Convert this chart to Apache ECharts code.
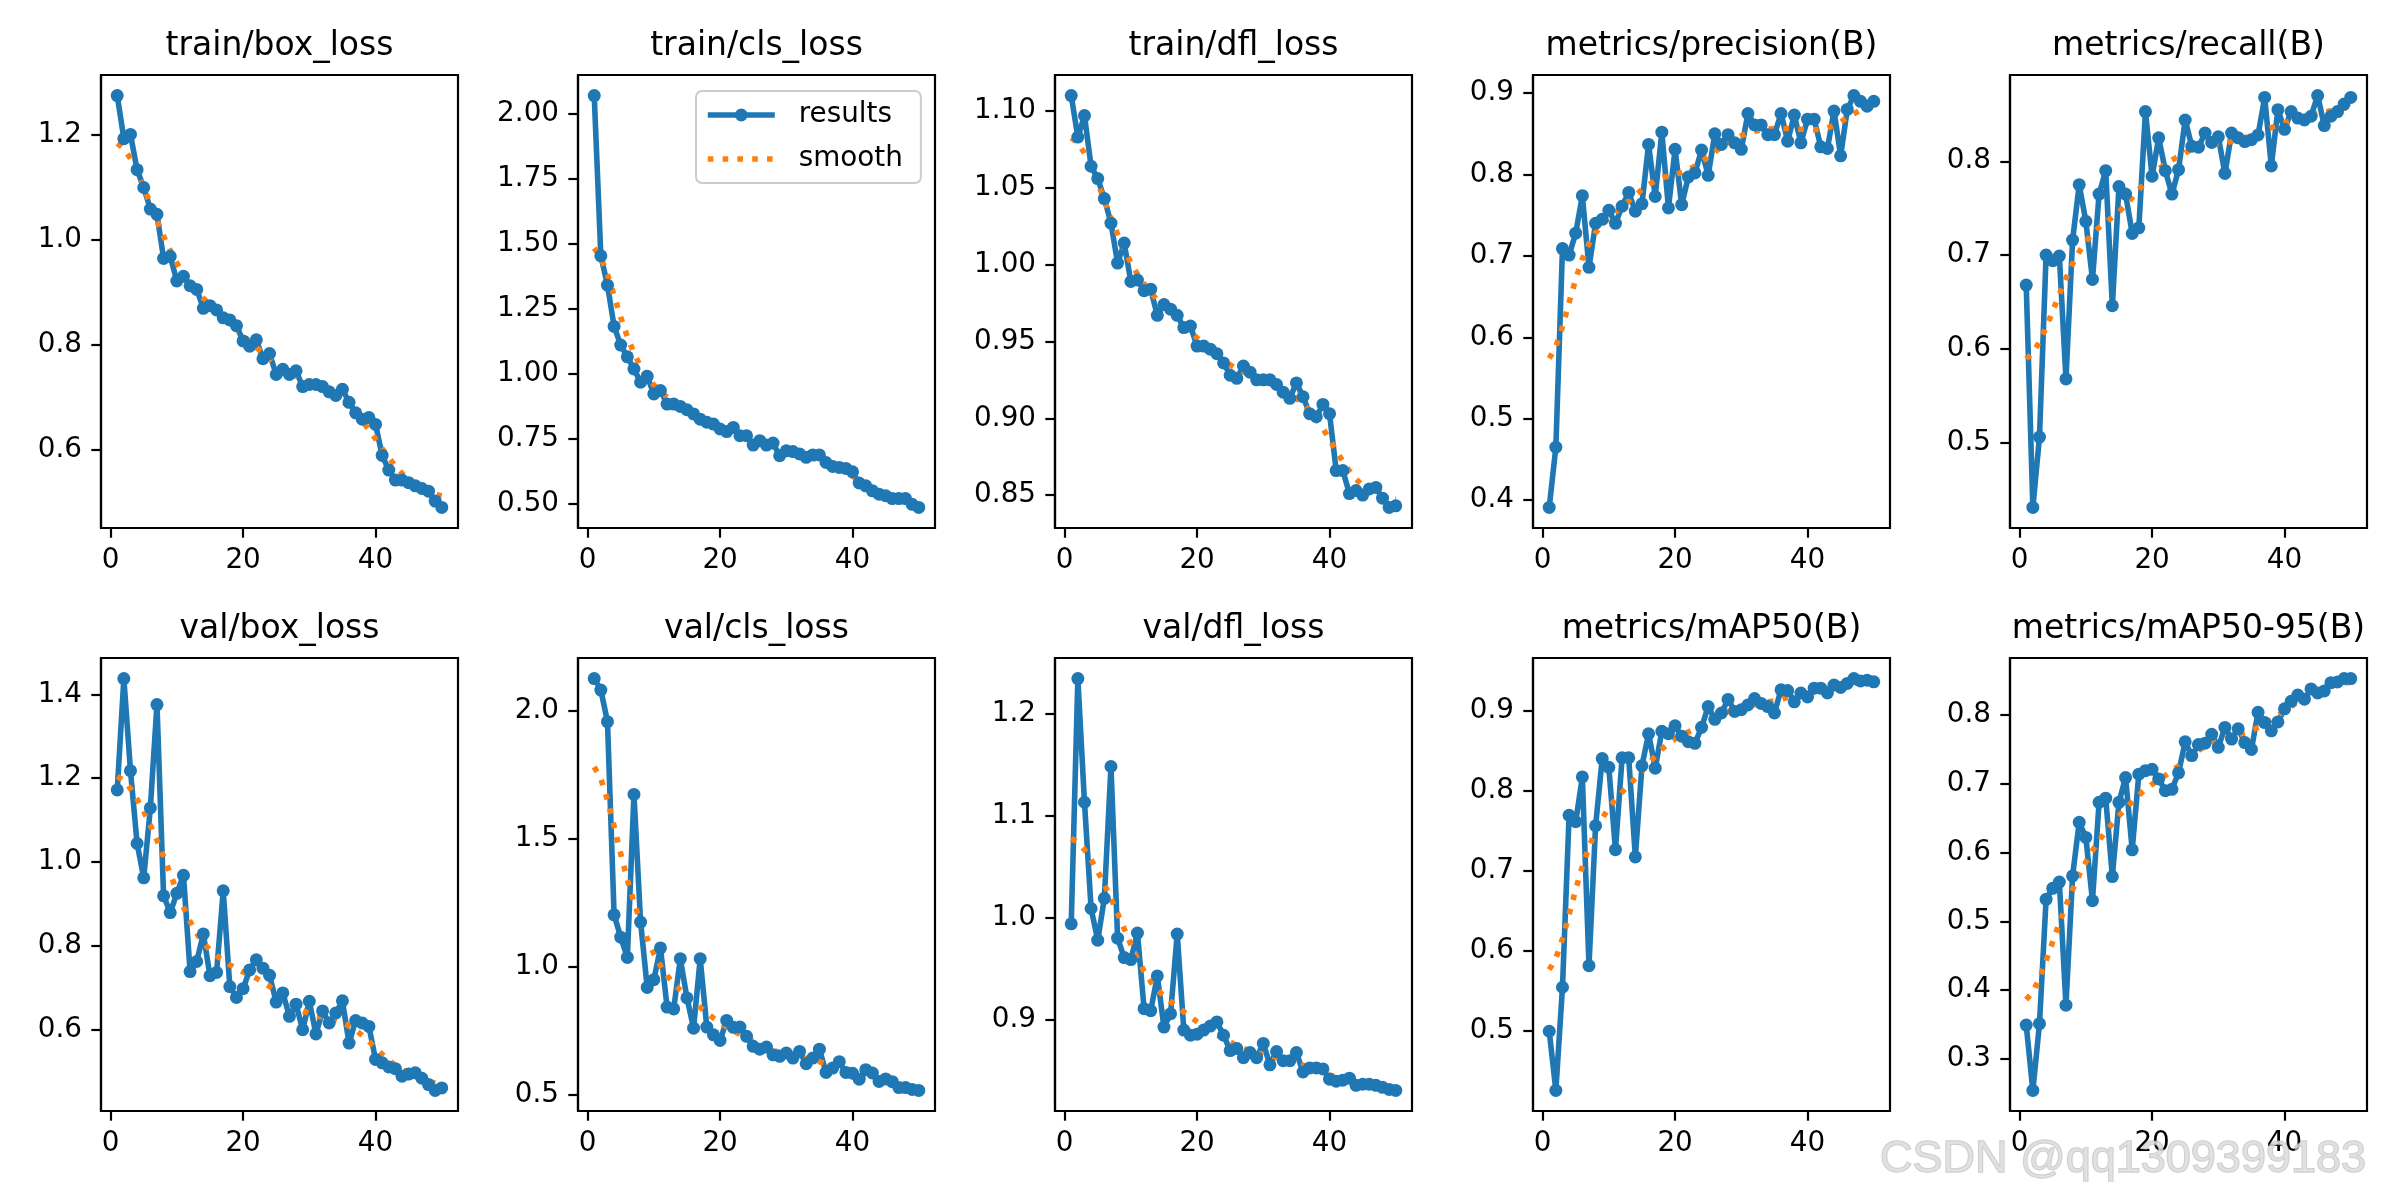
<!DOCTYPE html>
<html>
<head>
    <meta charset="utf-8"/>
    <title>results</title>
    <script src="https://cdn.jsdelivr.net/npm/echarts@6/dist/echarts.min.js"></script>
    <style>
        body { margin: 0; background: #fff; }
    </style>
</head>
<body>
<div id="main" style="width: 2400px;height:1200px;"></div>
<script type="text/javascript">
    // epochs (x axis)
    var epochs = [1,2,3,4,5,6,7,8,9,10,11,12,13,14,15,16,17,18,19,20,21,22,23,24,25,
                  26,27,28,29,30,31,32,33,34,35,36,37,38,39,40,41,42,43,44,45,46,47,48,49,50];
    var epochTicks = [0, 20, 40];

    // values
    var trainBox = [1.274,1.192,1.200,1.133,1.099,1.058,1.048,0.964,0.968,0.921,0.930,0.912,0.905,0.869,0.874,0.866,0.851,0.847,0.836,0.807,0.797,0.809,0.773,0.783,0.743,0.753,0.743,0.750,0.720,0.724,0.724,0.720,0.710,0.703,0.715,0.690,0.670,0.658,0.661,0.648,0.589,0.561,0.542,0.542,0.537,0.531,0.526,0.521,0.502,0.490];
    var trainCls = [2.071,1.454,1.341,1.182,1.110,1.065,1.018,0.967,0.990,0.922,0.935,0.883,0.883,0.874,0.861,0.845,0.825,0.813,0.806,0.787,0.777,0.793,0.761,0.761,0.725,0.742,0.725,0.733,0.684,0.703,0.700,0.691,0.678,0.687,0.687,0.658,0.643,0.639,0.635,0.622,0.579,0.568,0.549,0.536,0.530,0.519,0.519,0.519,0.497,0.485];
    var trainDfl = [1.110,1.083,1.097,1.064,1.056,1.043,1.027,1.001,1.014,0.989,0.990,0.983,0.984,0.967,0.974,0.971,0.967,0.959,0.960,0.947,0.947,0.945,0.942,0.936,0.928,0.926,0.934,0.930,0.925,0.925,0.925,0.922,0.917,0.913,0.923,0.914,0.903,0.901,0.909,0.903,0.866,0.866,0.851,0.853,0.850,0.854,0.855,0.848,0.842,0.843];
    var precision = [0.391,0.465,0.709,0.701,0.728,0.774,0.686,0.740,0.745,0.756,0.740,0.761,0.778,0.755,0.764,0.837,0.773,0.852,0.759,0.831,0.763,0.797,0.802,0.830,0.799,0.850,0.837,0.849,0.839,0.831,0.875,0.861,0.861,0.849,0.849,0.875,0.841,0.873,0.839,0.868,0.868,0.834,0.832,0.878,0.823,0.880,0.897,0.890,0.884,0.890];
    var recall = [0.668,0.431,0.506,0.700,0.694,0.699,0.568,0.716,0.775,0.736,0.674,0.765,0.790,0.646,0.773,0.765,0.723,0.729,0.853,0.784,0.825,0.790,0.765,0.791,0.844,0.816,0.815,0.830,0.820,0.826,0.787,0.830,0.825,0.821,0.823,0.828,0.868,0.795,0.855,0.834,0.853,0.846,0.844,0.848,0.870,0.838,0.848,0.853,0.861,0.868];
    var valBox = [1.172,1.438,1.218,1.044,0.962,1.129,1.376,0.919,0.879,0.925,0.968,0.738,0.762,0.828,0.728,0.736,0.931,0.702,0.676,0.697,0.742,0.766,0.746,0.729,0.665,0.687,0.631,0.660,0.599,0.667,0.589,0.644,0.615,0.639,0.668,0.567,0.621,0.615,0.607,0.528,0.520,0.510,0.506,0.488,0.493,0.496,0.483,0.468,0.454,0.460];
    var valCls = [2.124,2.079,1.956,1.202,1.115,1.036,1.672,1.174,0.919,0.949,1.073,0.842,0.835,1.031,0.878,0.760,1.031,0.764,0.734,0.712,0.790,0.763,0.764,0.728,0.689,0.678,0.686,0.656,0.650,0.663,0.643,0.669,0.621,0.643,0.678,0.587,0.604,0.629,0.587,0.584,0.561,0.598,0.585,0.552,0.562,0.551,0.528,0.528,0.521,0.517];
    var valDfl = [0.994,1.234,1.113,1.009,0.978,1.019,1.148,0.980,0.961,0.959,0.985,0.911,0.909,0.943,0.893,0.906,0.984,0.890,0.885,0.886,0.890,0.894,0.898,0.885,0.870,0.872,0.863,0.868,0.863,0.877,0.856,0.869,0.860,0.860,0.868,0.849,0.853,0.853,0.852,0.842,0.840,0.841,0.843,0.836,0.837,0.837,0.836,0.834,0.832,0.831];
    var map50 = [0.499,0.425,0.554,0.769,0.761,0.817,0.581,0.756,0.840,0.829,0.726,0.841,0.841,0.717,0.831,0.871,0.828,0.874,0.871,0.881,0.868,0.861,0.859,0.879,0.905,0.889,0.897,0.914,0.899,0.901,0.907,0.915,0.909,0.905,0.897,0.926,0.925,0.911,0.922,0.917,0.928,0.928,0.922,0.932,0.929,0.934,0.940,0.937,0.938,0.936];
    var map5095 = [0.349,0.254,0.351,0.532,0.548,0.557,0.378,0.566,0.644,0.622,0.530,0.673,0.679,0.565,0.673,0.709,0.604,0.714,0.719,0.721,0.707,0.690,0.692,0.716,0.761,0.741,0.757,0.759,0.772,0.753,0.782,0.765,0.780,0.760,0.750,0.804,0.789,0.777,0.790,0.809,0.820,0.829,0.823,0.838,0.832,0.835,0.847,0.848,0.853,0.853];

    // y tick labels per panel
    var trainBoxTicks = ['0.6','0.8','1.0','1.2'];
    var trainClsTicks = ['0.50','0.75','1.00','1.25','1.50','1.75','2.00'];
    var trainDflTicks = ['0.85','0.90','0.95','1.00','1.05','1.10'];
    var precisionTicks = ['0.4','0.5','0.6','0.7','0.8','0.9'];
    var recallTicks = ['0.5','0.6','0.7','0.8'];
    var valBoxTicks = ['0.6','0.8','1.0','1.2','1.4'];
    var valClsTicks = ['0.5','1.0','1.5','2.0'];
    var valDflTicks = ['0.9','1.0','1.1','1.2'];
    var map50Ticks = ['0.5','0.6','0.7','0.8','0.9'];
    var map5095Ticks = ['0.3','0.4','0.5','0.6','0.7','0.8'];

    var titles = ['train/box_loss','train/cls_loss','train/dfl_loss','metrics/precision(B)','metrics/recall(B)',
                  'val/box_loss','val/cls_loss','val/dfl_loss','metrics/mAP50(B)','metrics/mAP50-95(B)'];
    var values = [trainBox, trainCls, trainDfl, precision, recall, valBox, valCls, valDfl, map50, map5095];
    var ticks = [trainBoxTicks, trainClsTicks, trainDflTicks, precisionTicks, recallTicks,
                 valBoxTicks, valClsTicks, valDflTicks, map50Ticks, map5095Ticks];

    // same as scipy gaussian_filter1d(y, sigma=3), mode 'reflect'
    function gaussianSmooth(y, sigma) {
        var r = Math.round(4 * sigma), w = [], s = 0, n = y.length, out = [];
        for (var k = -r; k <= r; k++) { var v = Math.exp(-0.5 * k * k / (sigma * sigma)); w.push(v); s += v; }
        for (var i = 0; i < n; i++) {
            var acc = 0;
            for (var k = -r; k <= r; k++) {
                var j = i + k;
                while (j < 0 || j >= n) { if (j < 0) j = -j - 1; if (j >= n) j = 2 * n - j - 1; }
                acc += w[k + r] * y[j];
            }
            out.push(acc / s);
        }
        return out;
    }

    var FONT = 'DejaVu Sans';
    var BLUE = '#1f77b4', ORANGE = '#ff7f0e';
    var DOTS = [5.6, 9.2];
    var lefts = [101, 578, 1055, 1533, 2010];
    var tops = [75, 658];
    var W = 357, H = 453;

    var myChart = echarts.init(document.getElementById('main'), null, {renderer: 'canvas'});
    var grids = [], xAxes = [], yAxes = [], series = [], graphics = [];

    for (var p = 0; p < 10; p++) {
        var col = p % 5, row = Math.floor(p / 5);
        var y = values[p];
        var sm = gaussianSmooth(y, 3);
        var lo = Math.min.apply(null, y), hi = Math.max.apply(null, y);
        var pad = (hi - lo) * 0.05;
        var tickVals = ticks[p].map(Number);
        var tickLabels = ticks[p];

        grids.push({left: lefts[col], top: tops[row], width: W, height: H,
            show: true, borderColor: '#000', borderWidth: 2.2, backgroundColor: '#fff'});
        xAxes.push({
            type: 'value', gridIndex: p, min: 1 - 49 * 0.05, max: 50 + 49 * 0.05,
            axisLine: {show: true, onZero: false, lineStyle: {color: '#000', width: 2.2}},
            axisTick: {show: true, customValues: epochTicks, length: 9.7, lineStyle: {color: '#000', width: 2.2}},
            axisLabel: {customValues: epochTicks, margin: 19, fontSize: 27.8, fontFamily: FONT, color: '#000'},
            splitLine: {show: false}
        });
        yAxes.push({
            type: 'value', gridIndex: p, min: lo - pad, max: hi + pad,
            axisLine: {show: true, onZero: false, lineStyle: {color: '#000', width: 2.2}},
            axisTick: {show: true, customValues: tickVals, length: 9.7, lineStyle: {color: '#000', width: 2.2}},
            axisLabel: {customValues: tickVals, margin: 19, fontSize: 27.8, fontFamily: FONT, color: '#000',
                formatter: (function (tv, tl) {
                    return function (v) {
                        for (var i = 0; i < tv.length; i++) { if (Math.abs(tv[i] - v) < 1e-9) return tl[i]; }
                        return '';
                    };
                })(tickVals, tickLabels)},
            splitLine: {show: false}
        });
        series.push({
            name: 'results', type: 'line', xAxisIndex: p, yAxisIndex: p,
            data: epochs.map(function (e, i) { return [e, y[i]]; }),
            symbol: 'circle', symbolSize: 13, showSymbol: true,
            itemStyle: {color: BLUE},
            lineStyle: {color: BLUE, width: 5.6},
            silent: true
        });
        series.push({
            name: 'smooth', type: 'line', xAxisIndex: p, yAxisIndex: p,
            data: epochs.map(function (e, i) { return [e, sm[i]]; }),
            symbol: 'none', showSymbol: false,
            itemStyle: {color: ORANGE},
            lineStyle: {color: ORANGE, width: 5.6, type: DOTS, cap: 'butt'},
            silent: true, z: 3
        });
        graphics.push({
            type: 'text', x: lefts[col] + W / 2, y: tops[row] - 29,
            style: {text: titles[p], fontSize: 33, fontFamily: FONT, fill: '#000',
                textAlign: 'center', textVerticalAlign: 'middle'}
        });
    }

    // watermark
    graphics.push({
        type: 'text', x: 1880, y: 1160, z: 100,
        style: {text: 'CSDN @qq1309399183', fontSize: 45, fontFamily: 'Liberation Sans',
            fill: 'rgba(220,220,220,0.85)', stroke: 'rgba(170,170,170,0.6)', lineWidth: 1.5,
            textAlign: 'left', textVerticalAlign: 'middle'}
    });

    var option = {
        animation: false,
        backgroundColor: '#fff',
        grid: grids,
        xAxis: xAxes,
        yAxis: yAxes,
        series: series,
        legend: {
            data: [
                {name: 'results', itemStyle: {color: BLUE},
                 lineStyle: {color: BLUE, width: 5.6, type: 'solid'}},
                {name: 'smooth', itemStyle: {color: ORANGE, opacity: 0},
                 lineStyle: {color: ORANGE, width: 5.6, type: DOTS, cap: 'butt'}}
            ],
            orient: 'vertical', left: 696, top: 91,
            itemWidth: 67, itemHeight: 16, itemGap: 16,
            padding: [10, 18, 10, 9],
            backgroundColor: 'rgba(255,255,255,0.8)',
            borderColor: '#cccccc', borderWidth: 2, borderRadius: 6,
            textStyle: {fontSize: 27.8, fontFamily: FONT, color: '#000', padding: [0, 0, 0, 19]},
            selectedMode: false
        },
        graphic: graphics
    };
    myChart.setOption(option);
</script>
</body>
</html>
